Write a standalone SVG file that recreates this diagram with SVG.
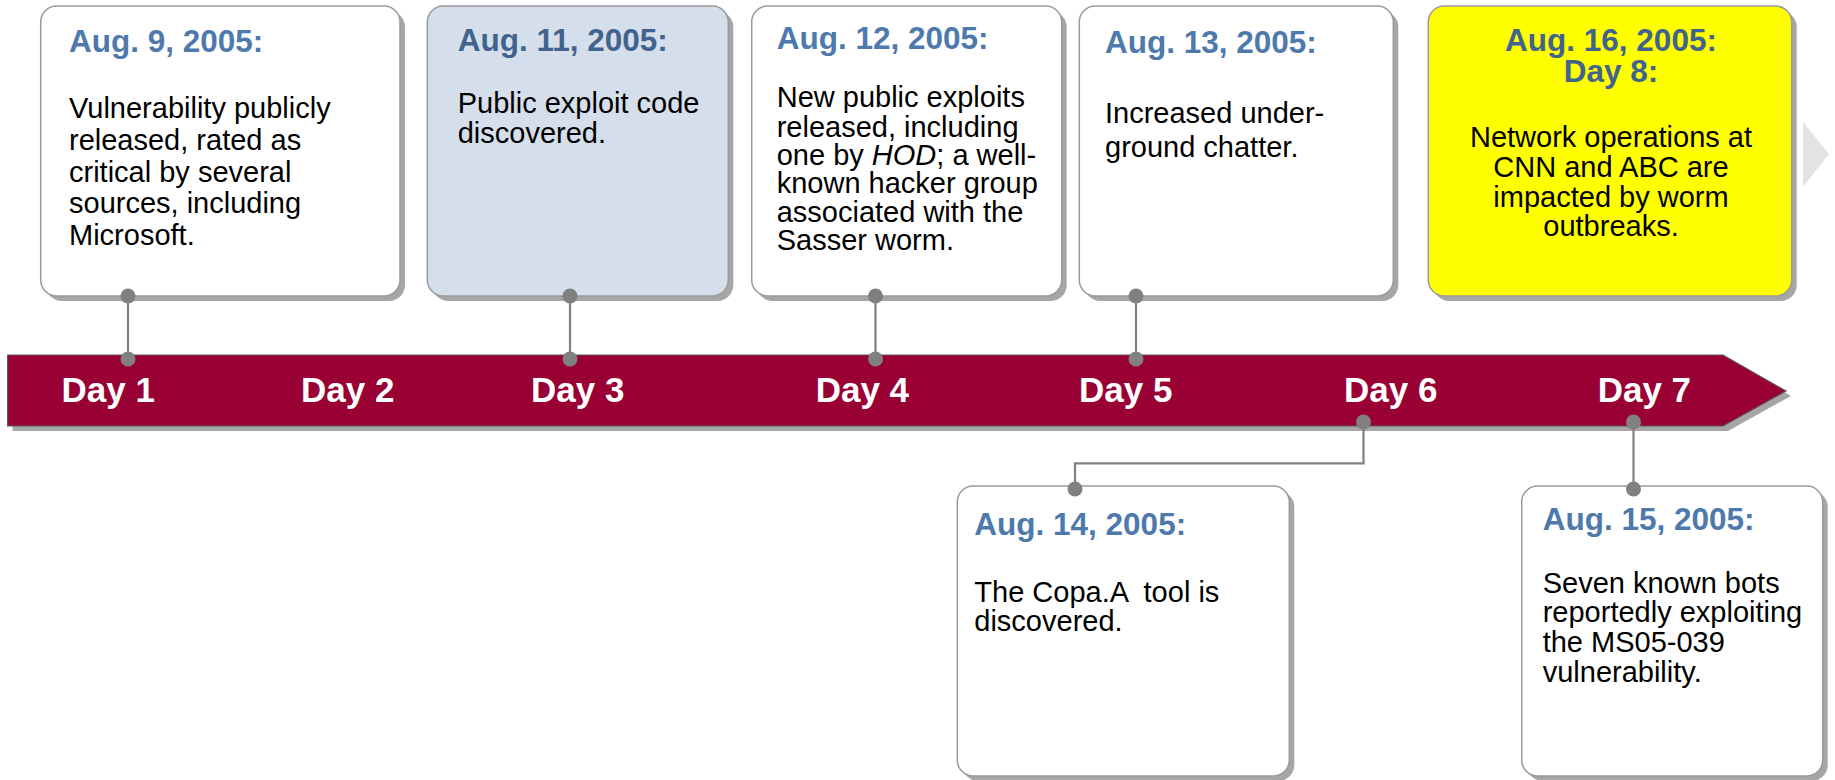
<svg xmlns="http://www.w3.org/2000/svg" width="1835" height="780" viewBox="0 0 1835 780">
<style>
.shadow{fill:#a6a6a6;}
.box{stroke:#9a9a9a;stroke-width:1.5;}
.white{fill:#ffffff;}
.blue{fill:#d5dfeb;}
.yellow{fill:#ffff00;}
.title{font-family:"Liberation Sans",Arial,sans-serif;font-weight:bold;font-size:31.5px;fill:#4e79ac;}
.title2{font-family:"Liberation Sans",Arial,sans-serif;font-weight:bold;font-size:31.5px;fill:#41638e;}
.body{font-family:"Liberation Sans",Arial,sans-serif;font-size:29px;fill:#000000;}
.day{font-family:"Liberation Sans",Arial,sans-serif;font-weight:bold;font-size:35px;fill:#ffffff;}
.conn{stroke:#808080;stroke-width:2.2;fill:none;}
.dot{fill:#808080;}
</style>
<rect width="1835" height="780" fill="#ffffff"/>

<g id="timeline">
  <polygon class="shadow" points="12.6,360 1728,360 1791,396 1728,431 12.6,431"/>
  <polygon points="7.6,355 1723,355 1786,391 1723,426 7.6,426" fill="#990033" stroke="#5a5a5a" stroke-width="1.2"/>
  <text class="day" x="61.6" y="401.7">Day 1</text>
  <text class="day" x="301" y="401.7">Day 2</text>
  <text class="day" x="531" y="401.7">Day 3</text>
  <text class="day" x="815.7" y="401.7">Day 4</text>
  <text class="day" x="1079" y="401.7">Day 5</text>
  <text class="day" x="1344" y="401.7">Day 6</text>
  <text class="day" x="1597.7" y="401.7">Day 7</text>
</g>

<g id="next-arrow">
  <polygon points="1803,122 1829,154 1803,187" fill="#e3e3e3"/>
</g>

<g id="connectors">
  <line class="conn" x1="128" y1="296" x2="128" y2="359"/>
  <line class="conn" x1="570" y1="296" x2="570" y2="359"/>
  <line class="conn" x1="875.5" y1="296" x2="875.5" y2="359"/>
  <line class="conn" x1="1136" y1="296" x2="1136" y2="359"/>
  <polyline class="conn" points="1075,489 1075,463.3 1363.5,463.3 1363.5,422"/>
  <line class="conn" x1="1633.5" y1="422" x2="1633.5" y2="489"/>
</g>

<g id="node-aug9">
  <rect class="shadow" x="45.7" y="11" width="359.3" height="290" rx="16"/>
  <rect class="box white" x="40.7" y="6" width="359.3" height="290" rx="16"/>
  <text class="title" x="69" y="52">Aug. 9, 2005:</text>
  <text class="body" x="69" y="118.3">Vulnerability publicly</text>
  <text class="body" x="69" y="150">released, rated as</text>
  <text class="body" x="69" y="181.7">critical by several</text>
  <text class="body" x="69" y="213.3">sources, including</text>
  <text class="body" x="69" y="245">Microsoft.</text>
</g>

<g id="node-aug11">
  <rect class="shadow" x="432.3" y="11" width="301" height="290" rx="16"/>
  <rect class="box blue" x="427.3" y="6" width="301" height="290" rx="16"/>
  <text class="title2" x="457.7" y="50.7">Aug. 11, 2005:</text>
  <text class="body" x="457.7" y="113.3">Public exploit code</text>
  <text class="body" x="457.7" y="143.3">discovered.</text>
</g>

<g id="node-aug12">
  <rect class="shadow" x="756.7" y="11" width="310" height="290" rx="16"/>
  <rect class="box white" x="751.7" y="6" width="310" height="290" rx="16"/>
  <text class="title" x="776.7" y="49.3">Aug. 12, 2005:</text>
  <text class="body" x="776.7" y="107.3">New public exploits</text>
  <text class="body" x="776.7" y="136.7">released, including</text>
  <text class="body" x="776.7" y="165">one by <tspan font-style="italic">HOD</tspan>; a well-</text>
  <text class="body" x="776.7" y="192.7">known hacker group</text>
  <text class="body" x="776.7" y="221.7">associated with the</text>
  <text class="body" x="776.7" y="250">Sasser worm.</text>
</g>

<g id="node-aug13">
  <rect class="shadow" x="1084.3" y="11" width="314" height="290" rx="16"/>
  <rect class="box white" x="1079.3" y="6" width="314" height="290" rx="16"/>
  <text class="title" x="1105" y="53.3">Aug. 13, 2005:</text>
  <text class="body" x="1105" y="123.3">Increased under-</text>
  <text class="body" x="1105" y="156.7">ground chatter.</text>
</g>

<g id="node-aug16">
  <rect class="shadow" x="1433.3" y="11" width="363.4" height="290" rx="16"/>
  <rect class="box yellow" x="1428.3" y="6" width="363.4" height="290" rx="16"/>
  <text class="title2" x="1611" y="50.7" text-anchor="middle">Aug. 16, 2005:</text>
  <text class="title2" x="1611" y="81.7" text-anchor="middle">Day 8:</text>
  <text class="body" x="1611" y="146.7" text-anchor="middle">Network operations at</text>
  <text class="body" x="1611" y="176.7" text-anchor="middle">CNN and ABC are</text>
  <text class="body" x="1611" y="206.7" text-anchor="middle">impacted by worm</text>
  <text class="body" x="1611" y="236" text-anchor="middle">outbreaks.</text>
</g>

<g id="node-aug14">
  <rect class="shadow" x="962.3" y="491" width="332" height="290" rx="16"/>
  <rect class="box white" x="957.3" y="486" width="332" height="290" rx="16"/>
  <text class="title" x="974.3" y="535">Aug. 14, 2005:</text>
  <text class="body" x="974.3" y="601.7" xml:space="preserve">The Copa.A  tool is</text>
  <text class="body" x="974.3" y="630.7">discovered.</text>
</g>

<g id="node-aug15">
  <rect class="shadow" x="1526.7" y="491" width="301" height="290" rx="16"/>
  <rect class="box white" x="1521.7" y="486" width="301" height="290" rx="16"/>
  <text class="title" x="1542.7" y="530">Aug. 15, 2005:</text>
  <text class="body" x="1542.7" y="593.3">Seven known bots</text>
  <text class="body" x="1542.7" y="621.7">reportedly exploiting</text>
  <text class="body" x="1542.7" y="651.7">the MS05-039</text>
  <text class="body" x="1542.7" y="681.7">vulnerability.</text>
</g>

<g id="connector-dots">
  <circle class="dot" cx="128" cy="296" r="7.5"/>
  <circle class="dot" cx="128" cy="359" r="7.5"/>
  <circle class="dot" cx="570" cy="296" r="7.5"/>
  <circle class="dot" cx="570" cy="359" r="7.5"/>
  <circle class="dot" cx="875.5" cy="296" r="7.5"/>
  <circle class="dot" cx="875.5" cy="359" r="7.5"/>
  <circle class="dot" cx="1136" cy="296" r="7.5"/>
  <circle class="dot" cx="1136" cy="359" r="7.5"/>
  <circle class="dot" cx="1363.5" cy="422" r="7.5"/>
  <circle class="dot" cx="1075" cy="489" r="7.5"/>
  <circle class="dot" cx="1633.5" cy="422" r="7.5"/>
  <circle class="dot" cx="1633.5" cy="489" r="7.5"/>
</g>
</svg>
